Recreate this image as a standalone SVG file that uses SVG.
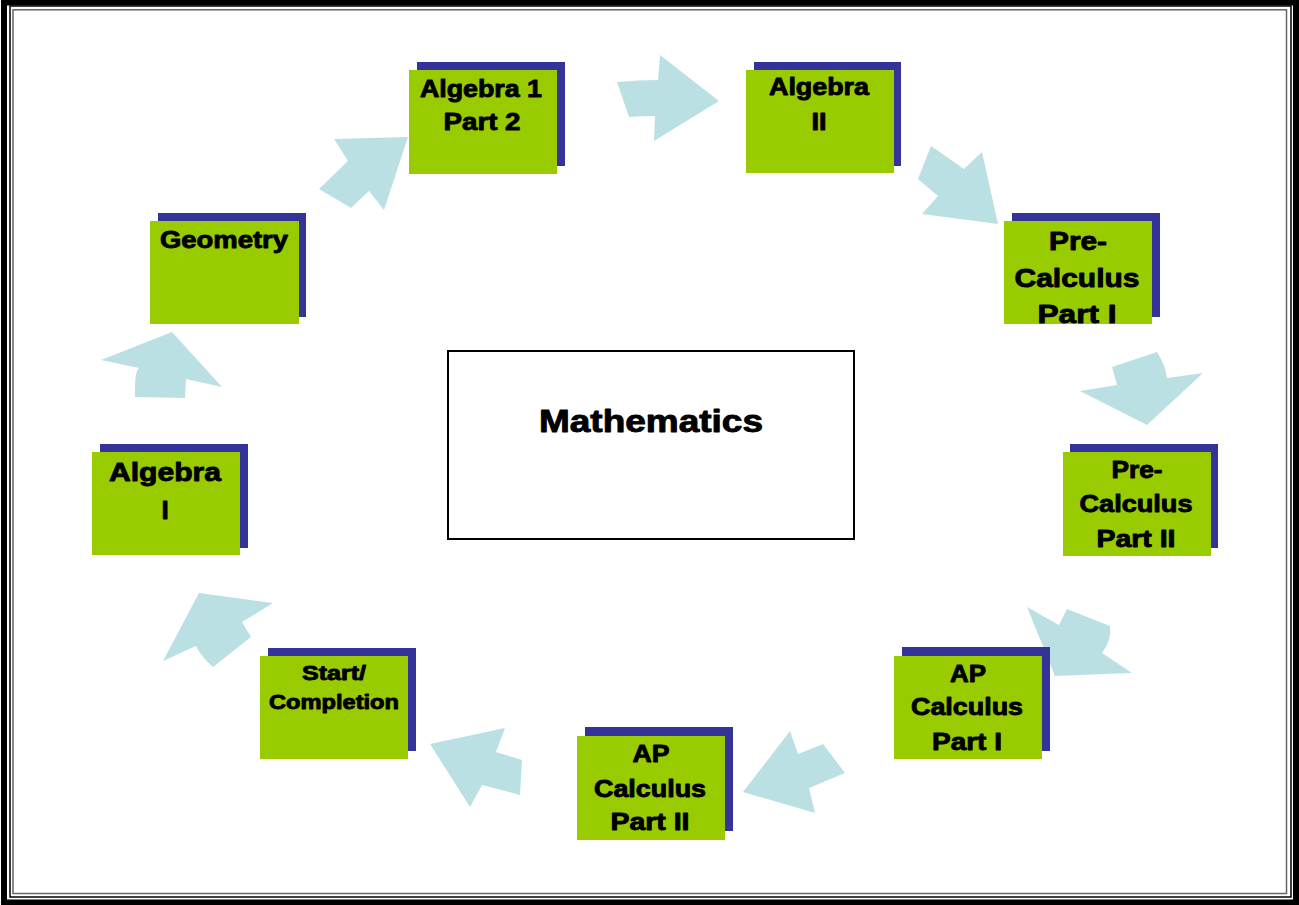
<svg xmlns="http://www.w3.org/2000/svg" width="1299" height="905" viewBox="0 0 1299 905">
<defs>
<style>
.bg{fill:#ffffff}
.sh{fill:#333399}
.bx{fill:#99CC00}
.t{font-family:"Liberation Sans",Arial,sans-serif;font-weight:bold;fill:#000;stroke:#000;stroke-width:0.9;stroke-linejoin:round;text-anchor:middle}
.arr{fill:#BBE0E3}
</style>
<clipPath id="clipPC1"><rect x="1004" y="221" width="148" height="103"/></clipPath>
</defs>
<rect class="bg" x="0" y="0" width="1299" height="905"/>
<g id="frame" fill="none">
<rect x="4" y="2.5" width="1292" height="900" stroke="#000" stroke-width="6"/>
<rect x="10" y="6" width="1281" height="891" stroke="#000" stroke-width="1.5"/>
<rect x="13" y="9.8" width="1273.5" height="883.7" stroke="#666" stroke-width="1.5"/>
</g>
<g id="connectors">
<path class="arr" d="M408,137 L334,139 L348,161 L319,189 L351,208 L369,191 L384,210 Z"/>
<path class="arr" d="M617,82 Q638,80 658,80 L660,55 L719,101 L654,141 L655,116 Q642,116 629,117 Z"/>
<path class="arr" d="M931,146 L964,169 L982,152 L998,224 L922,214 L938,196 L918,179 Z"/>
<path class="arr" d="M1112,367 L1157,352 Q1165,364 1167,378 L1203,373 L1147,425 L1080,391 L1117,385 Z"/>
<path class="arr" d="M1027,607 L1059,625 L1067,609 L1110,626 Q1112,640 1102,653 L1132,673 L1055,676 Z"/>
<path class="arr" d="M743,792 L790,731 L798,754 L823,744 L845,773 L809,788 L815,813 Z"/>
<path class="arr" d="M430,744 L505,728 L496,752 L522,760 L520,795 L482,785 L470,807 Z"/>
<path class="arr" d="M199,593 L273,603 L242,622 L251,637 L213,667 Q202,658 196,646 L163,661 Z"/>
<path class="arr" d="M101,360 L172,332 L222,387 L186,379 L185,398 L135,397 C135,382 135,372 139,368 Z"/>
</g>
<g id="center">
<rect x="448" y="351" width="406" height="188" fill="#fff" stroke="#000" stroke-width="2"/>
<text class="t" x="651" y="432" font-size="31" textLength="224" lengthAdjust="spacingAndGlyphs">Mathematics</text>
</g>
<g id="node-start">
<rect class="sh" x="268" y="648" width="148" height="103"/>
<rect class="bx" x="260" y="656" width="148" height="103"/>
<text class="t" x="334" y="680" font-size="20" textLength="64" lengthAdjust="spacingAndGlyphs">Start/</text>
<text class="t" x="334" y="709" font-size="20" textLength="130" lengthAdjust="spacingAndGlyphs">Completion</text>
</g>
<g id="node-algebra1">
<rect class="sh" x="100" y="444" width="148" height="104"/>
<rect class="bx" x="92" y="452" width="148" height="103"/>
<text class="t" x="165" y="481" font-size="26" textLength="112" lengthAdjust="spacingAndGlyphs">Algebra</text>
<text class="t" x="165" y="519" font-size="26">I</text>
</g>
<g id="node-geometry">
<rect class="sh" x="158" y="213" width="148" height="104"/>
<rect class="bx" x="150" y="221" width="149" height="103"/>
<text class="t" x="224" y="248" font-size="24" textLength="128" lengthAdjust="spacingAndGlyphs">Geometry</text>
</g>
<g id="node-algebra1-part2">
<rect class="sh" x="417" y="62" width="148" height="104"/>
<rect class="bx" x="409" y="70" width="148" height="104"/>
<text class="t" x="481" y="97" font-size="24" textLength="122" lengthAdjust="spacingAndGlyphs">Algebra 1</text>
<text class="t" x="482" y="130" font-size="24" textLength="77" lengthAdjust="spacingAndGlyphs">Part 2</text>
</g>
<g id="node-algebra2">
<rect class="sh" x="754" y="62" width="147" height="104"/>
<rect class="bx" x="746" y="70" width="148" height="103"/>
<text class="t" x="819" y="95" font-size="24" textLength="100" lengthAdjust="spacingAndGlyphs">Algebra</text>
<text class="t" x="819" y="130" font-size="24" textLength="15" lengthAdjust="spacingAndGlyphs">II</text>
</g>
<g id="node-precalc1">
<rect class="sh" x="1012" y="213" width="148" height="104"/>
<rect class="bx" x="1004" y="221" width="148" height="103"/>
<g clip-path="url(#clipPC1)">
<text class="t" x="1078" y="250" font-size="26" textLength="58" lengthAdjust="spacingAndGlyphs">Pre-</text>
<text class="t" x="1077" y="287" font-size="26" textLength="125" lengthAdjust="spacingAndGlyphs">Calculus</text>
<text class="t" x="1077" y="323" font-size="26" textLength="79" lengthAdjust="spacingAndGlyphs">Part I</text>
</g>
</g>
<g id="node-precalc2">
<rect class="sh" x="1070" y="444" width="148" height="104"/>
<rect class="bx" x="1063" y="452" width="148" height="104"/>
<text class="t" x="1137" y="478" font-size="24" textLength="51" lengthAdjust="spacingAndGlyphs">Pre-</text>
<text class="t" x="1136" y="512" font-size="24" textLength="113" lengthAdjust="spacingAndGlyphs">Calculus</text>
<text class="t" x="1136" y="547" font-size="24" textLength="79" lengthAdjust="spacingAndGlyphs">Part II</text>
</g>
<g id="node-apcalc1">
<rect class="sh" x="902" y="647" width="148" height="104"/>
<rect class="bx" x="894" y="656" width="148" height="103"/>
<text class="t" x="968" y="682" font-size="24" textLength="36" lengthAdjust="spacingAndGlyphs">AP</text>
<text class="t" x="967" y="715" font-size="24" textLength="112" lengthAdjust="spacingAndGlyphs">Calculus</text>
<text class="t" x="967" y="750" font-size="24" textLength="70" lengthAdjust="spacingAndGlyphs">Part I</text>
</g>
<g id="node-apcalc2">
<rect class="sh" x="585" y="727" width="148" height="104"/>
<rect class="bx" x="577" y="736" width="148" height="104"/>
<text class="t" x="651" y="762" font-size="24" textLength="37" lengthAdjust="spacingAndGlyphs">AP</text>
<text class="t" x="650" y="797" font-size="24" textLength="112" lengthAdjust="spacingAndGlyphs">Calculus</text>
<text class="t" x="650" y="830" font-size="24" textLength="79" lengthAdjust="spacingAndGlyphs">Part II</text>
</g>
</svg>
